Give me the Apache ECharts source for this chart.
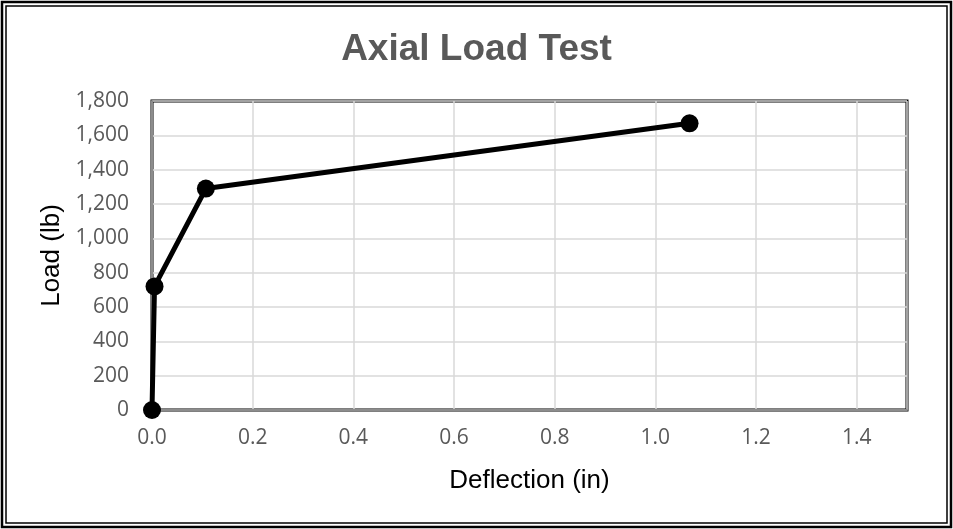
<!DOCTYPE html>
<html><head><meta charset="utf-8">
<script src="https://cdn.jsdelivr.net/npm/echarts@6/dist/echarts.min.js"></script>
<style>html,body{margin:0;padding:0;background:#fff}#c{width:953px;height:529px}</style>
</head><body><div id="c"></div>
<script>
const deflection = [0, 0.005, 0.107, 1.068];
const load = [0, 720, 1290, 1670];
const xTicks = [0, 0.2, 0.4, 0.6, 0.8, 1.0, 1.2, 1.4];
const yTicks = [0, 200, 400, 600, 800, 1000, 1200, 1400, 1600, 1800];

const chart = echarts.init(document.getElementById('c'));
const font = '"Open Sans", sans-serif';
const arial = '"Liberation Sans", Arial, sans-serif';
chart.setOption({
  animation: false,
  title: {text: 'Axial Load Test', left: 'center', top: 26,
    textStyle: {fontFamily: arial, fontSize: 37, fontWeight: 'bold', color: '#595959'}},
  graphic: [
    {type: 'rect', shape: {x: 2, y: 2, width: 949, height: 525}, style: {fill: 'none', stroke: '#000', lineWidth: 2.5}, z: 100},
    {type: 'rect', shape: {x: 6, y: 6, width: 941, height: 517}, style: {fill: 'none', stroke: '#000', lineWidth: 1.5}, z: 100}
  ],
  grid: {left: 152, top: 101, right: 46, bottom: 119, show: true, borderColor: '#000', borderWidth: 3, backgroundColor: 'transparent'},
  xAxis: {type: 'value', min: 0, max: 1.5, interval: 0.2,
    name: 'Deflection (in)', nameLocation: 'middle', nameGap: 58,
    nameTextStyle: {fontFamily: arial, fontSize: 26, color: '#000'},
    axisLine: {show: true, onZero: false, lineStyle: {color: '#8c8c8c', width: 2}},
    axisTick: {show: false},
    splitLine: {show: true, lineStyle: {color: '#d9d9d9', width: 1.5}},
    axisLabel: {fontFamily: font, fontSize: 21, color: '#595959', margin: 18,
      formatter: v => xTicks.some(t => Math.abs(t - v) < 1e-9) ? v.toFixed(1) : ''}
  },
  yAxis: {type: 'value', min: 0, max: 1800, interval: 200,
    name: 'Load (lb)', nameLocation: 'middle', nameGap: 86, nameRotate: 90,
    nameTextStyle: {fontFamily: arial, fontSize: 26, color: '#000'},
    axisLine: {show: true, lineStyle: {color: '#8c8c8c', width: 2}},
    axisTick: {show: false},
    splitLine: {show: true, lineStyle: {color: '#d9d9d9', width: 1.5}},
    axisLabel: {fontFamily: font, fontSize: 21, color: '#595959', margin: 23,
      formatter: v => yTicks.includes(v) ? v.toLocaleString('en-US') : ''}
  },
  series: [{
    type: 'line',
    data: deflection.map((d, i) => [d, load[i]]),
    symbol: 'circle', symbolSize: 18,
    lineStyle: {color: '#000', width: 5},
    itemStyle: {color: '#000'},
    clip: false, z: 10
  }]
});
</script></body></html>
